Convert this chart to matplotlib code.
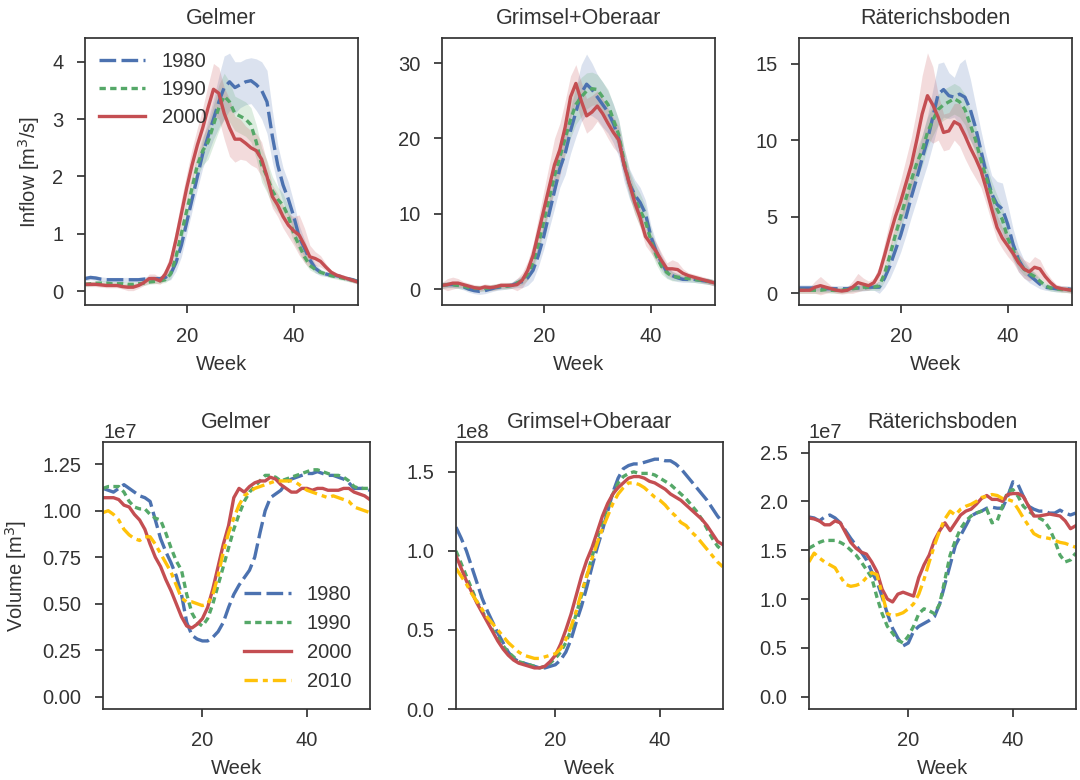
import numpy as np
import matplotlib
matplotlib.use('Agg')
import matplotlib.pyplot as plt

weeks = np.arange(1, 53)
years_in = ['1980', '1990', '2000']
years_vol = ['1980', '1990', '2000', '2010']
lakes = ['Gelmer', 'Grimsel+Oberaar', 'Räterichsboden']

# weekly inflow means [m3/s] and half-width of the shaded band
gel_in_1980 = [0.22, 0.24, 0.23, 0.21, 0.20, 0.20, 0.20, 0.20, 0.20, 0.20, 0.20, 0.21, 0.22,
               0.22, 0.22, 0.24, 0.30, 0.50, 0.80, 1.20, 1.60, 2.00, 2.40, 2.70, 3.00, 3.30,
               3.55, 3.65, 3.55, 3.60, 3.65, 3.67, 3.60, 3.50, 3.30, 2.70, 2.20, 1.85, 1.60,
               1.30, 0.95, 0.75, 0.55, 0.40, 0.33, 0.30, 0.28, 0.27, 0.25, 0.22, 0.20, 0.17]
gel_in_1990 = [0.12, 0.13, 0.14, 0.14, 0.14, 0.13, 0.13, 0.13, 0.12, 0.12, 0.13, 0.14, 0.16,
               0.17, 0.18, 0.20, 0.30, 0.60, 1.00, 1.40, 1.80, 2.20, 2.45, 2.60, 2.90, 3.20,
               3.40, 3.30, 3.10, 3.05, 3.00, 2.90, 2.60, 2.20, 2.00, 1.75, 1.60, 1.50, 1.30,
               1.00, 0.80, 0.60, 0.45, 0.38, 0.33, 0.30, 0.27, 0.25, 0.23, 0.21, 0.19, 0.17]
gel_in_2000 = [0.12, 0.12, 0.12, 0.11, 0.10, 0.10, 0.10, 0.08, 0.07, 0.07, 0.10, 0.15, 0.22,
               0.22, 0.18, 0.30, 0.50, 0.90, 1.35, 1.80, 2.20, 2.55, 2.85, 3.20, 3.52, 3.45,
               3.10, 2.85, 2.65, 2.65, 2.58, 2.50, 2.45, 2.30, 2.00, 1.65, 1.50, 1.30, 1.15,
               1.05, 0.98, 0.80, 0.60, 0.57, 0.52, 0.42, 0.33, 0.28, 0.25, 0.22, 0.19, 0.16]
gel_sd_1980 = [0.04] * 13 + \
              [0.04, 0.04, 0.06, 0.10, 0.15, 0.20, 0.20, 0.20, 0.22, 0.25, 0.30, 0.35, 0.45,
               0.55, 0.50, 0.45, 0.40, 0.40, 0.40, 0.45, 0.50, 0.55, 0.45, 0.35, 0.30, 0.30,
               0.25, 0.20, 0.15, 0.10, 0.08, 0.06] + [0.04] * 7
gel_sd_1990 = [0.04] * 13 + \
              [0.04, 0.04, 0.05, 0.08, 0.12, 0.15, 0.18, 0.20, 0.20, 0.25, 0.30, 0.35, 0.40,
               0.40, 0.35, 0.30, 0.30, 0.30, 0.30, 0.30, 0.30, 0.28, 0.25, 0.22, 0.20, 0.18,
               0.15, 0.12, 0.10, 0.08, 0.06] + [0.04] * 8
gel_sd_2000 = [0.04] * 8 + [0.06, 0.06, 0.05, 0.05, 0.08,
               0.08, 0.06, 0.10, 0.15, 0.20, 0.25, 0.25, 0.28, 0.30, 0.35, 0.40, 0.45, 0.45,
               0.45, 0.50, 0.40, 0.35, 0.30, 0.30, 0.30, 0.30, 0.25, 0.20, 0.20, 0.20, 0.20,
               0.25, 0.35, 0.30, 0.20, 0.12, 0.10, 0.06] + [0.04] * 6

gri_in_1980 = [0.5, 0.6, 0.6, 0.5, 0.3, 0.0, -0.2, -0.3, -0.2, 0.0, 0.2, 0.3, 0.4,
               0.5, 0.8, 1.0, 1.5, 2.5, 4.5, 7.0, 10.0, 13.0, 16.0, 18.0, 21.0, 23.5,
               26.0, 27.2, 26.5, 25.5, 24.5, 23.5, 22.0, 20.0, 16.5, 14.0, 12.5, 11.5, 10.0,
               7.0, 5.0, 3.5, 2.3, 1.8, 1.5, 1.3, 1.3, 1.3, 1.2, 1.1, 1.0, 0.8]
gri_in_1990 = [0.5, 0.6, 0.6, 0.5, 0.4, 0.2, 0.1, 0.1, 0.1, 0.2, 0.3, 0.4, 0.4,
               0.5, 0.8, 1.2, 2.0, 3.5, 6.0, 9.0, 12.0, 15.0, 17.5, 20.0, 22.5, 24.5,
               25.5, 26.3, 26.6, 26.5, 25.5, 24.5, 22.5, 20.5, 17.0, 14.0, 12.0, 10.5, 9.0,
               6.5, 4.5, 3.0, 2.2, 1.7, 1.6, 1.5, 1.4, 1.3, 1.2, 1.1, 1.0, 0.8]
gri_in_2000 = [0.5, 0.6, 0.8, 0.8, 0.6, 0.4, 0.2, 0.1, 0.3, 0.2, 0.3, 0.5, 0.5,
               0.5, 0.6, 1.2, 2.5, 4.5, 7.5, 10.5, 13.5, 16.5, 18.5, 21.5, 25.5, 27.3,
               25.0, 23.0, 23.5, 24.3, 23.3, 22.0, 20.8, 19.8, 16.5, 14.0, 11.5, 9.5, 7.0,
               6.0, 5.0, 3.8, 2.7, 2.7, 2.6, 2.1, 1.8, 1.6, 1.4, 1.2, 1.0, 0.8]
gri_sd_1980 = [0.4] * 13 + \
              [0.4, 0.6, 0.8, 1.0, 1.3, 1.5, 1.7, 2.0, 2.3, 2.5, 2.8, 3.0, 3.3,
               3.8, 4.0, 3.5, 3.0, 3.0, 2.8, 2.6, 2.4, 2.2, 2.0, 2.0, 2.0, 1.8,
               1.5, 1.2, 1.0, 0.8, 0.6, 0.5] + [0.4] * 7
gri_sd_1990 = [0.4] * 13 + \
              [0.4, 0.4, 0.6, 0.8, 1.0, 1.2, 1.4, 1.6, 1.8, 2.0, 2.2, 2.4, 2.6,
               2.6, 2.4, 2.2, 2.0, 2.0, 2.0, 2.0, 2.0, 1.8, 1.8, 2.0, 2.2, 2.0,
               1.5, 1.2, 1.0, 0.8, 0.6, 0.5] + [0.4] * 7
gri_sd_2000 = [0.4, 0.8, 0.8, 0.6] + [0.4] * 9 + \
              [0.4, 0.8, 1.0, 1.2, 1.5, 2.0, 2.5, 3.0, 3.5, 3.5, 3.5, 2.8, 2.5,
               2.5, 2.3, 2.2, 2.0, 2.0, 2.0, 2.0, 1.8, 1.6, 1.5, 1.5, 1.3, 1.2,
               1.2, 1.2, 1.0, 0.8, 1.2, 1.0, 0.6] + [0.4] * 6

rae_in_1980 = [0.35, 0.35, 0.35, 0.35, 0.35, 0.30, 0.30, 0.30, 0.30, 0.30, 0.35, 0.35, 0.35,
               0.40, 0.40, 0.40, 1.00, 1.80, 2.80, 3.80, 5.00, 6.30, 7.50, 8.80, 10.0, 11.5,
               13.0, 13.3, 12.9, 12.8, 13.0, 12.8, 12.0, 10.8, 9.3, 7.8, 6.5, 5.8, 5.5,
               4.5, 3.2, 2.2, 1.6, 1.2, 0.9, 0.6, 0.4, 0.35, 0.3, 0.3, 0.3, 0.25]
rae_in_1990 = [0.20, 0.20, 0.20, 0.20, 0.20, 0.25, 0.20, 0.20, 0.20, 0.25, 0.30, 0.35, 0.40,
               0.40, 0.40, 0.50, 1.30, 2.50, 3.80, 5.00, 6.20, 7.40, 8.50, 9.30, 10.5, 11.3,
               12.0, 12.3, 12.5, 12.7, 12.5, 12.0, 11.0, 10.0, 8.7, 7.5, 6.4, 5.5, 4.8,
               3.6, 2.8, 2.1, 1.6, 1.3, 1.1, 0.8, 0.5, 0.35, 0.3, 0.25, 0.25, 0.2]
rae_in_2000 = [0.2, 0.2, 0.2, 0.4, 0.5, 0.4, 0.3, 0.2, 0.15, 0.2, 0.4, 0.7, 0.6,
               0.5, 0.7, 1.3, 2.5, 3.8, 5.0, 6.0, 7.2, 8.4, 10.0, 11.7, 12.9, 12.3,
               11.5, 10.5, 10.6, 11.2, 11.0, 10.3, 9.5, 8.8, 8.0, 6.8, 5.5, 4.3, 3.6,
               3.1, 2.6, 2.0, 1.6, 1.4, 1.7, 1.6, 1.1, 0.7, 0.4, 0.3, 0.25, 0.2]
rae_sd_1980 = [0.2] * 13 + \
              [0.2, 0.2, 0.4, 0.6, 0.8, 1.0, 1.1, 1.2, 1.3, 1.4, 1.5, 1.6, 1.8,
               2.0, 1.8, 1.5, 1.3, 2.0, 2.5, 2.0, 1.5, 1.3, 1.2, 1.2, 1.5, 1.7,
               1.3, 1.0, 0.8, 0.6, 0.5, 0.4, 0.3] + [0.2] * 6
rae_sd_1990 = [0.2] * 13 + \
              [0.2, 0.2, 0.3, 0.5, 0.6, 0.7, 0.8, 0.9] + [1.0] * 12 + [0.9] * 5 + [0.8] + \
              [0.7, 0.6, 0.5, 0.4, 0.3, 0.3] + [0.2] * 7
rae_sd_2000 = [0.2, 0.2, 0.2, 0.4, 0.6, 0.4, 0.2, 0.2, 0.2, 0.2, 0.4, 0.6, 0.4,
               0.3, 0.3, 0.5, 0.8, 1.0, 1.2, 1.4, 1.6, 1.8, 2.0, 2.5, 2.8, 2.5,
               1.5, 1.2, 1.2, 1.2, 1.4, 1.5, 1.4, 1.3, 1.1, 1.0, 0.9, 0.8, 0.7,
               0.7, 0.6, 0.6, 0.6, 0.6, 0.7, 0.6, 0.4, 0.3, 0.2, 0.2, 0.2, 0.2]

# weekly reservoir volume, in units of 1e7 m3 (Gelmer, Räterichsboden) and 1e8 m3 (Grimsel)
gel_vol_1980 = [1.12, 1.11, 1.10, 1.12, 1.14, 1.12, 1.10, 1.08, 1.07, 1.05, 0.95, 0.85, 0.78,
                0.72, 0.65, 0.55, 0.40, 0.33, 0.31, 0.30, 0.30, 0.32, 0.35, 0.40, 0.48, 0.55,
                0.60, 0.64, 0.68, 0.75, 0.88, 1.00, 1.07, 1.09, 1.11, 1.15, 1.17, 1.18, 1.19,
                1.20, 1.20, 1.21, 1.20, 1.19, 1.19, 1.18, 1.17, 1.15, 1.12, 1.12, 1.12, 1.11]
gel_vol_1990 = [1.12, 1.13, 1.13, 1.13, 1.10, 1.05, 1.02, 1.01, 1.01, 0.98, 0.96, 0.95, 0.88,
                0.80, 0.73, 0.68, 0.55, 0.45, 0.40, 0.38, 0.42, 0.50, 0.60, 0.70, 0.80, 0.90,
                0.98, 1.05, 1.10, 1.13, 1.16, 1.19, 1.19, 1.18, 1.16, 1.17, 1.18, 1.19, 1.20,
                1.21, 1.22, 1.22, 1.21, 1.20, 1.19, 1.19, 1.18, 1.16, 1.13, 1.12, 1.12, 1.12]
gel_vol_2000 = [1.07, 1.07, 1.07, 1.06, 1.03, 1.02, 0.98, 0.95, 0.90, 0.82, 0.75, 0.70, 0.63,
                0.57, 0.50, 0.43, 0.38, 0.37, 0.39, 0.42, 0.48, 0.58, 0.70, 0.82, 0.92, 1.07,
                1.12, 1.10, 1.13, 1.15, 1.16, 1.16, 1.18, 1.17, 1.14, 1.12, 1.10, 1.10, 1.12,
                1.12, 1.11, 1.12, 1.12, 1.11, 1.11, 1.11, 1.12, 1.12, 1.10, 1.09, 1.08, 1.06]
gel_vol_2010 = [0.99, 1.00, 0.98, 0.95, 0.90, 0.87, 0.85, 0.84, 0.86, 0.86, 0.82, 0.77, 0.72,
                0.67, 0.60, 0.53, 0.51, 0.51, 0.50, 0.49, 0.50, 0.55, 0.65, 0.78, 0.88, 0.96,
                1.03, 1.08, 1.10, 1.12, 1.13, 1.14, 1.15, 1.16, 1.16, 1.16, 1.16, 1.15, 1.13,
                1.11, 1.10, 1.09, 1.08, 1.07, 1.08, 1.07, 1.06, 1.05, 1.02, 1.01, 1.00, 0.99]

gri_vol_1980 = [1.15, 1.08, 1.00, 0.90, 0.80, 0.70, 0.62, 0.55, 0.48, 0.42, 0.36, 0.32, 0.30,
                0.29, 0.28, 0.27, 0.26, 0.26, 0.27, 0.28, 0.31, 0.36, 0.44, 0.55, 0.65, 0.77,
                0.90, 1.02, 1.13, 1.25, 1.37, 1.46, 1.52, 1.54, 1.55, 1.55, 1.56, 1.57, 1.58,
                1.58, 1.57, 1.57, 1.55, 1.52, 1.48, 1.44, 1.40, 1.36, 1.32, 1.27, 1.22, 1.18]
gri_vol_1990 = [1.00, 0.92, 0.84, 0.76, 0.68, 0.62, 0.56, 0.50, 0.45, 0.40, 0.36, 0.33, 0.30,
                0.29, 0.28, 0.27, 0.26, 0.27, 0.29, 0.32, 0.36, 0.42, 0.50, 0.60, 0.72, 0.84,
                0.96, 1.08, 1.18, 1.28, 1.36, 1.43, 1.47, 1.49, 1.50, 1.49, 1.49, 1.49, 1.48,
                1.46, 1.44, 1.42, 1.39, 1.36, 1.33, 1.29, 1.25, 1.20, 1.14, 1.08, 1.03, 1.00]
gri_vol_2000 = [0.97, 0.89, 0.81, 0.74, 0.67, 0.61, 0.55, 0.49, 0.43, 0.38, 0.34, 0.31, 0.29,
                0.28, 0.27, 0.26, 0.26, 0.27, 0.30, 0.34, 0.41, 0.50, 0.60, 0.72, 0.84, 0.94,
                1.02, 1.12, 1.22, 1.30, 1.36, 1.40, 1.43, 1.46, 1.47, 1.47, 1.46, 1.44, 1.43,
                1.41, 1.39, 1.36, 1.34, 1.32, 1.29, 1.26, 1.23, 1.20, 1.16, 1.11, 1.06, 1.04]
gri_vol_2010 = [0.89, 0.84, 0.79, 0.73, 0.68, 0.63, 0.58, 0.54, 0.50, 0.46, 0.42, 0.39, 0.36,
                0.34, 0.33, 0.32, 0.32, 0.33, 0.34, 0.35, 0.38, 0.44, 0.52, 0.62, 0.74, 0.84,
                0.95, 1.05, 1.14, 1.22, 1.30, 1.36, 1.40, 1.43, 1.43, 1.42, 1.40, 1.37, 1.34,
                1.32, 1.29, 1.25, 1.22, 1.18, 1.16, 1.12, 1.09, 1.05, 1.01, 0.97, 0.93, 0.90]

rae_vol_1980 = [1.84, 1.83, 1.80, 1.84, 1.86, 1.83, 1.78, 1.70, 1.62, 1.55, 1.48, 1.40, 1.28,
                1.18, 1.02, 0.85, 0.70, 0.60, 0.52, 0.55, 0.67, 0.72, 0.75, 0.78, 0.82, 0.95,
                1.15, 1.35, 1.55, 1.65, 1.75, 1.85, 1.88, 1.90, 1.93, 1.94, 1.93, 1.93, 2.05,
                2.20, 2.17, 2.05, 1.95, 1.92, 1.90, 1.90, 1.88, 1.88, 1.91, 1.88, 1.86, 1.88]
rae_vol_1990 = [1.52, 1.55, 1.58, 1.60, 1.60, 1.60, 1.58, 1.55, 1.50, 1.45, 1.38, 1.30, 1.22,
                1.02, 0.85, 0.72, 0.65, 0.58, 0.55, 0.62, 0.72, 0.85, 0.90, 0.88, 0.85, 0.95,
                1.20, 1.45, 1.60, 1.72, 1.80, 1.85, 1.88, 1.90, 1.92, 1.78, 1.80, 1.95, 2.10,
                2.12, 2.05, 1.95, 1.90, 1.86, 1.83, 1.80, 1.72, 1.60, 1.45, 1.38, 1.40, 1.47]
rae_vol_2000 = [1.83, 1.82, 1.80, 1.76, 1.76, 1.80, 1.78, 1.68, 1.58, 1.52, 1.48, 1.46, 1.38,
                1.28, 1.10, 1.00, 0.97, 1.05, 1.07, 1.05, 1.03, 1.22, 1.35, 1.45, 1.60, 1.70,
                1.78, 1.70, 1.78, 1.86, 1.90, 1.92, 1.97, 2.03, 2.06, 2.02, 2.02, 2.00, 2.07,
                2.08, 2.08, 2.05, 1.95, 1.85, 1.85, 1.86, 1.87, 1.86, 1.85, 1.80, 1.72, 1.75]
rae_vol_2010 = [1.38, 1.47, 1.42, 1.38, 1.35, 1.32, 1.23, 1.15, 1.13, 1.14, 1.16, 1.22, 1.27,
                1.25, 1.05, 0.85, 0.83, 0.84, 0.86, 0.90, 0.95, 1.05, 1.20, 1.38, 1.55, 1.70,
                1.82, 1.90, 1.86, 1.92, 1.95, 1.97, 2.00, 2.04, 2.05, 2.07, 2.06, 2.03, 2.02,
                2.00, 1.92, 1.83, 1.75, 1.67, 1.64, 1.63, 1.62, 1.60, 1.58, 1.57, 1.55, 1.53]
vol_scale = [1e7, 1e8, 1e7]

inflow = [[gel_in_1980, gel_in_1990, gel_in_2000],
          [gri_in_1980, gri_in_1990, gri_in_2000],
          [rae_in_1980, rae_in_1990, rae_in_2000]]
spread = [[gel_sd_1980, gel_sd_1990, gel_sd_2000],
          [gri_sd_1980, gri_sd_1990, gri_sd_2000],
          [rae_sd_1980, rae_sd_1990, rae_sd_2000]]
volume = [[gel_vol_1980, gel_vol_1990, gel_vol_2000, gel_vol_2010],
          [gri_vol_1980, gri_vol_1990, gri_vol_2000, gri_vol_2010],
          [rae_vol_1980, rae_vol_1990, rae_vol_2000, rae_vol_2010]]

# styling
colors = ['#4C72B0', '#55A868', '#C44E52', '#FFC20A']
dashes = [(5, 1.6), (1.9, 1.3), (), (4, 1.5, 1.5, 1.5)]
dark = '#333333'

plt.rcParams['font.family'] = ['Liberation Sans', 'DejaVu Sans']
plt.rcParams['font.size'] = 14.5
plt.rcParams['text.color'] = dark
plt.rcParams['axes.labelcolor'] = dark
plt.rcParams['axes.edgecolor'] = dark
plt.rcParams['axes.linewidth'] = 1.25
for a in ['xtick', 'ytick']:
    plt.rcParams[a + '.color'] = dark
    plt.rcParams[a + '.labelcolor'] = dark
    plt.rcParams[a + '.major.size'] = 5.5
    plt.rcParams[a + '.major.width'] = 1.25
    plt.rcParams[a + '.major.pad'] = 10
    plt.rcParams[a + '.direction'] = 'out'

fig = plt.figure(figsize=(10.8, 7.8), dpi=100)

top_left = [0.0787, 0.4093, 0.7398]
bot_left = [0.0954, 0.4222, 0.7490]
top_ylim = [(-0.24, 4.41), (-2.1, 33.3), (-0.76, 16.65)]
top_yticks = [[0, 1, 2, 3, 4], [0, 10, 20, 30], [0, 5, 10, 15]]
bot_ylim = [(-0.066, 1.368), (0, 1.687), (-0.126, 2.605)]
bot_yticks = [[0, 0.25, 0.5, 0.75, 1.0, 1.25], [0, 0.5, 1.0, 1.5], [0, 0.5, 1.0, 1.5, 2.0, 2.5]]

for i, lake in enumerate(lakes):
    # inflow row
    ax = fig.add_axes([top_left[i], 0.609, 0.2528, 0.342])
    for j, yr in enumerate(years_in):
        m = np.array(inflow[i][j])
        s = np.array(spread[i][j])
        ax.fill_between(weeks, m - s, m + s, color=colors[j], alpha=0.2, lw=0)
        ax.plot(weeks, m, color=colors[j], lw=2.4, dashes=dashes[j], label=yr)
    ax.set_xlim(1, 52)
    ax.set_ylim(*top_ylim[i])
    ax.set_xticks([20, 40])
    ax.set_yticks(top_yticks[i])
    ax.set_xlabel('Week', labelpad=7)
    ax.set_title(lake, pad=10, fontsize=15.5)
    if i == 0:
        ax.set_ylabel('Inflow [m$^3$/s]', labelpad=7)
        ax.legend(loc='upper left', frameon=False, handlelength=2.3,
                  labelspacing=0.45, borderaxespad=0.3)

    # volume row
    ax = fig.add_axes([bot_left[i], 0.091, 0.247, 0.342])
    sc = vol_scale[i]
    for j, yr in enumerate(years_vol):
        ax.plot(weeks, np.array(volume[i][j]) * sc, color=colors[j], lw=2.4,
                dashes=dashes[j], label=yr)
    ax.set_xlim(1, 52)
    ax.set_ylim(bot_ylim[i][0] * sc, bot_ylim[i][1] * sc)
    ax.set_xticks([20, 40])
    ax.set_yticks(np.array(bot_yticks[i]) * sc)
    ax.set_xlabel('Week', labelpad=7)
    ax.set_title(lake, pad=10, fontsize=15.5)
    if i == 0:
        ax.set_ylabel('Volume [m$^3$]', labelpad=10)
        ax.legend(loc='lower right', frameon=False, handlelength=2.3,
                  labelspacing=0.5)

fig.savefig('out.png', dpi=100)
